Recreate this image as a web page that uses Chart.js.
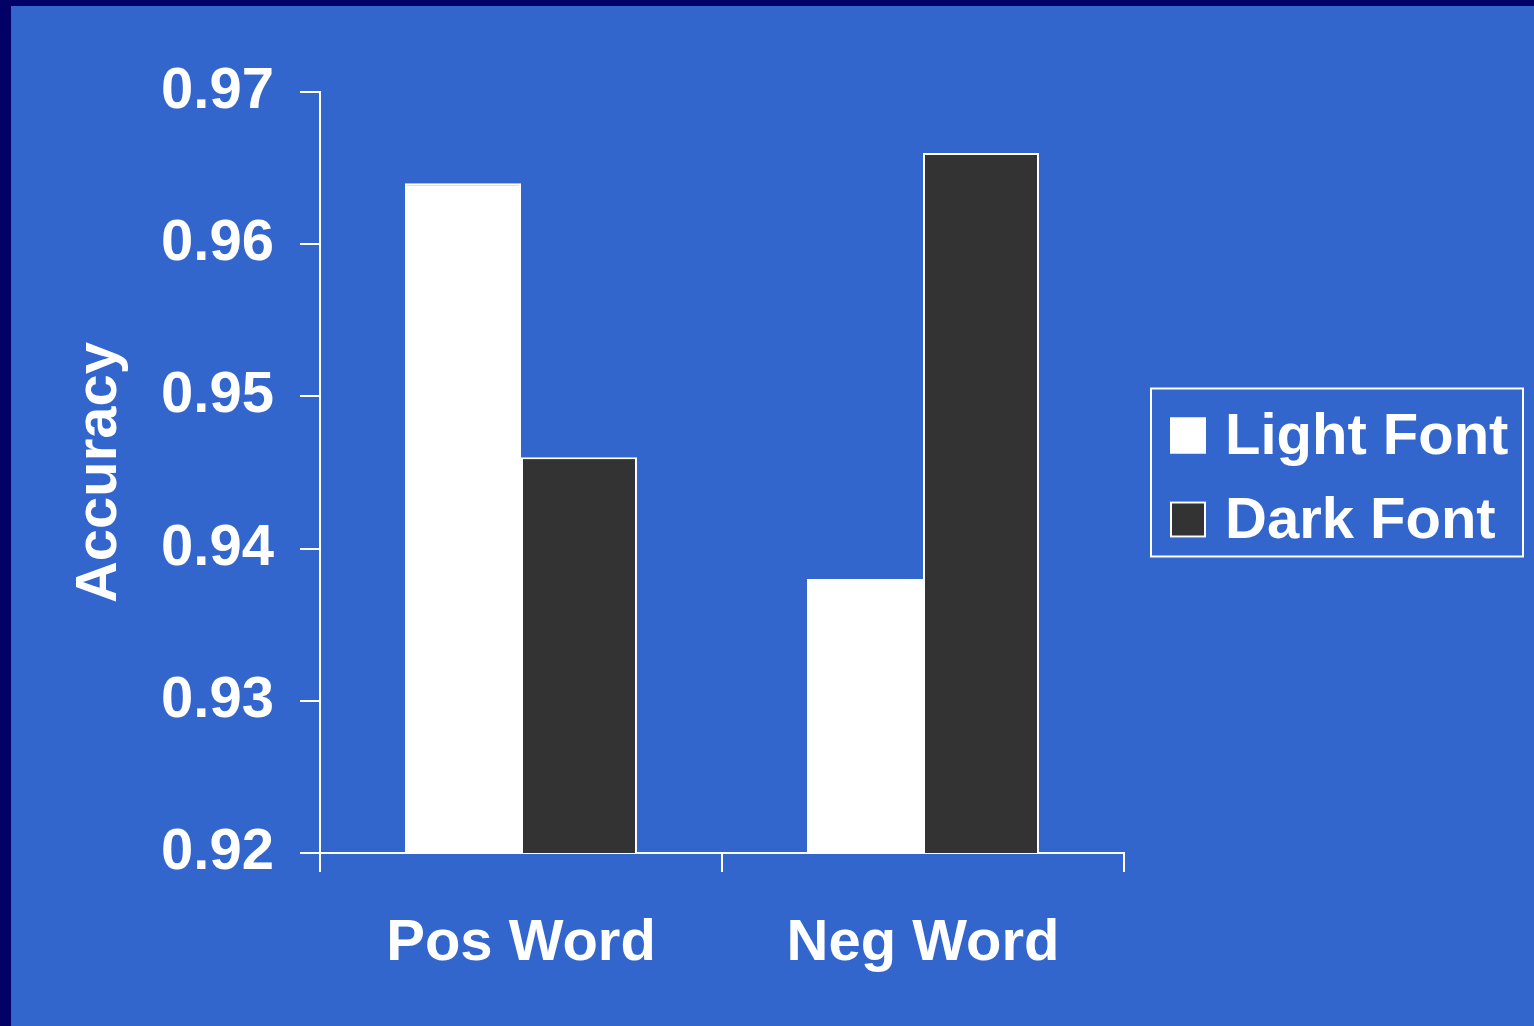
<!DOCTYPE html>
<html>
<head>
<meta charset="utf-8">
<script src="https://cdn.jsdelivr.net/npm/chart.js@4"></script>
<style>
  html, body { margin: 0; padding: 0; background: #000066; }
  #wrap { position: absolute; left: 11px; top: 6px; width: 1523px; height: 1020px; background: #3366cc; }
</style>
</head>
<body>
<div id="wrap"><canvas id="chart" width="1523" height="1020"></canvas></div>
<script>
// data
const categories = ["Pos Word", "Neg Word"];
const seriesNames = ["Light Font", "Dark Font"];
const lightFont = [0.964, 0.938];
const darkFont = [0.946, 0.966];
const yTicks = [0.92, 0.93, 0.94, 0.95, 0.96, 0.97];

const FONT = "'Liberation Sans', Arial, sans-serif";

// legend with a box round it, drawn from the dataset labels
const boxedLegend = {
  id: "boxedLegend",
  afterDraw(chart) {
    const ctx = chart.ctx;
    const area = chart.chartArea;
    const x0 = area.right + 27;
    const y0 = (area.top + area.bottom) / 2 - 84;
    ctx.save();
    ctx.strokeStyle = "#ffffff";
    ctx.lineWidth = 2;
    ctx.strokeRect(x0, y0, 372, 168);
    ctx.font = "bold 58px " + FONT;
    ctx.textBaseline = "middle";
    chart.data.datasets.forEach((ds, i) => {
      const cy = y0 + 47 + i * 84;
      ctx.fillStyle = ds.backgroundColor;
      ctx.fillRect(x0 + 19, cy - 18, 36, 36);
      ctx.lineWidth = 2;
      ctx.strokeStyle = "#ffffff";
      ctx.strokeRect(x0 + 20, cy - 17, 34, 34);
      ctx.fillStyle = "#ffffff";
      ctx.fillText(ds.label, x0 + 74, cy + 2);
    });
    ctx.restore();
  },
};

const config = {
  type: "bar",
  data: {
    labels: categories,
    datasets: [
      {
        label: seriesNames[0],
        data: lightFont,
        backgroundColor: "#ffffff",
        borderColor: "#ffffff",
        borderWidth: 2,
      },
      {
        label: seriesNames[1],
        data: darkFont,
        backgroundColor: "#333333",
        borderColor: "#ffffff",
        borderWidth: 2,
      },
    ],
  },
  options: {
    responsive: false,
    animation: false,
    devicePixelRatio: 1,
    layout: {
      padding: { top: 86, right: 410, bottom: 0, left: 0 },
    },
    plugins: {
      legend: { display: false },
      tooltip: { enabled: false },
    },
    datasets: {
      bar: {
        categoryPercentage: 0.577,
        barPercentage: 1.0,
      },
    },
    scales: {
      x: {
        offset: true,
        grid: {
          offset: true,
          drawOnChartArea: false,
          color: "#ffffff",
          lineWidth: 2,
          tickLength: 19,
        },
        border: { color: "#ffffff", width: 2 },
        ticks: {
          color: "#ffffff",
          padding: 37,
          font: { family: FONT, size: 58, weight: "bold" },
        },
        afterFit(scale) {
          scale.height = 173;
        },
      },
      y: {
        min: 0.92,
        max: 0.97,
        afterBuildTicks(scale) {
          scale.ticks = yTicks.map((v) => ({ value: v }));
        },
        grid: {
          drawOnChartArea: false,
          color: "#ffffff",
          lineWidth: 2,
          tickLength: 20,
        },
        border: { color: "#ffffff", width: 2 },
        ticks: {
          color: "#ffffff",
          padding: 26,
          font: { family: FONT, size: 58, weight: "bold" },
          callback: (v) => v.toFixed(2),
        },
        title: {
          display: true,
          text: "Accuracy",
          color: "#ffffff",
          padding: { top: 54, bottom: 0 },
          font: { family: FONT, size: 58, weight: "bold" },
        },
        afterFit(scale) {
          scale.width = 309;
        },
      },
    },
  },
  plugins: [boxedLegend],
};

new Chart(document.getElementById("chart"), config);
</script>
</body>
</html>
